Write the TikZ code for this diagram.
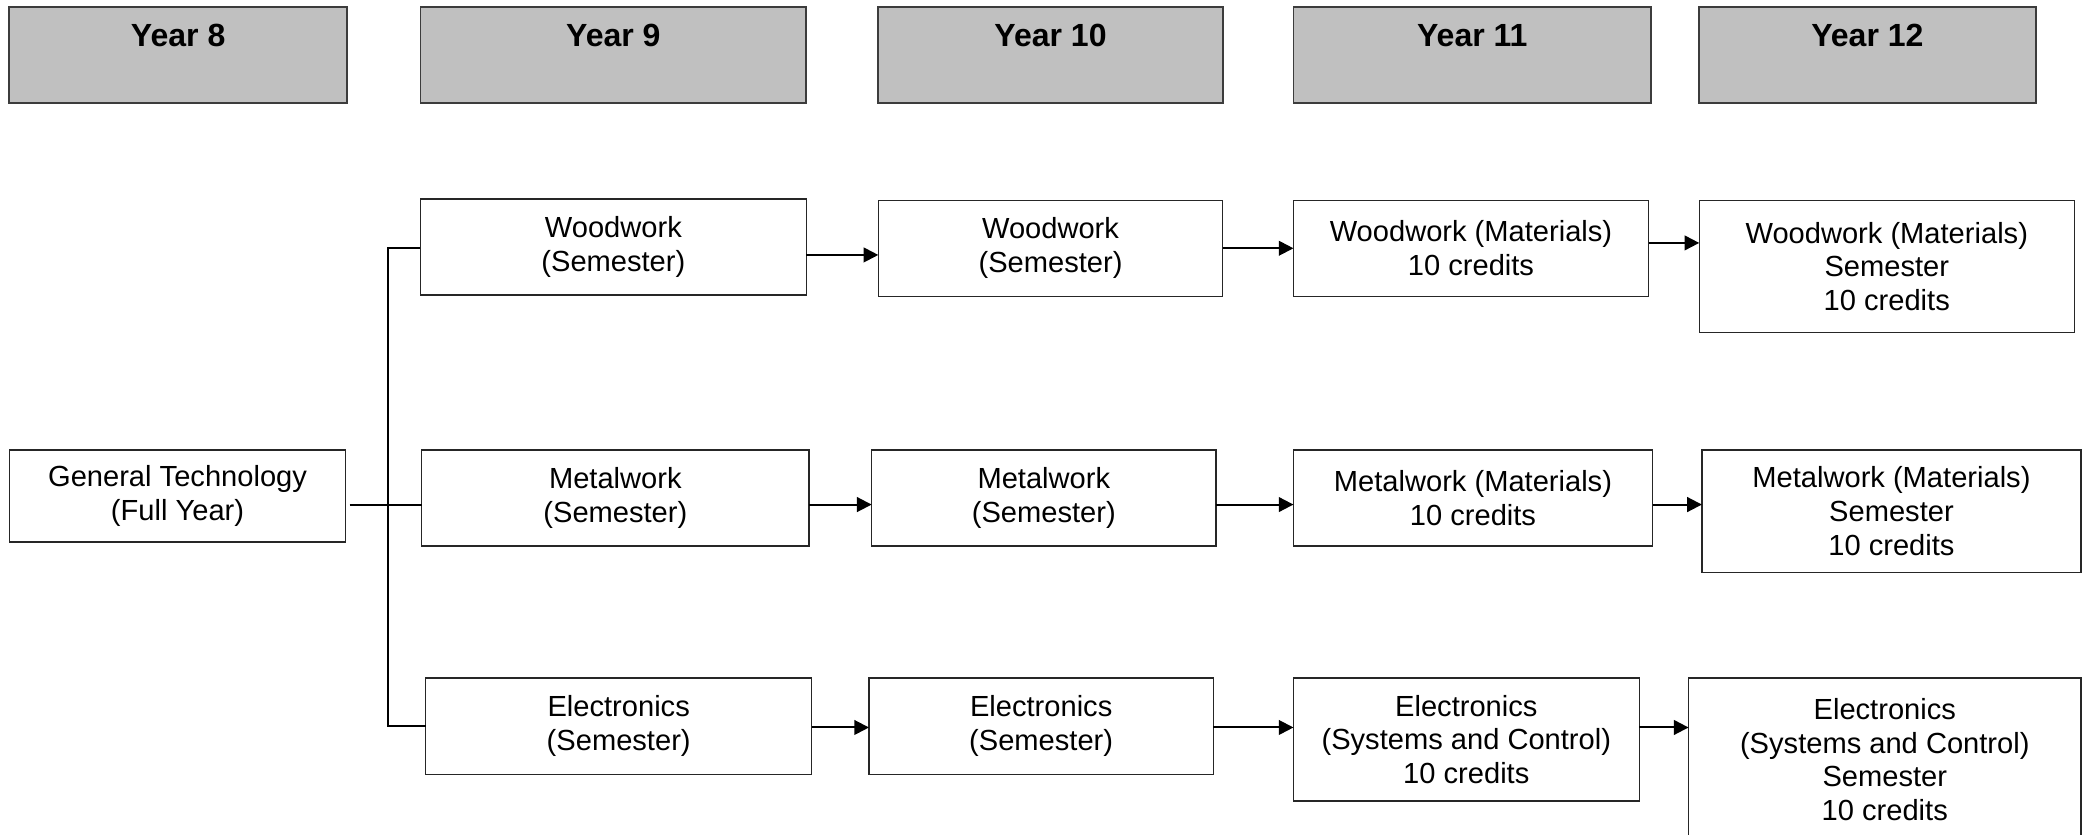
\documentclass[tikz,border=0pt]{standalone}
\usepackage{fontspec}
\setmainfont{Liberation Sans}
\usetikzlibrary{arrows.meta}
\definecolor{hdrgray}{HTML}{C0C0C0}
\definecolor{edge}{HTML}{262626}
\tikzset{
  box/.style={draw=edge, line width=0.5pt, fill=white, inner sep=0pt, outer sep=0pt,
    align=center, font=\fontsize{10.9}{12.6}\selectfont},
  hdrbox/.style={draw=edge!90, line width=0.7pt, fill=hdrgray, inner sep=0pt, outer sep=0pt},
  hdrtxt/.style={inner sep=0pt, font=\bfseries\fontsize{12}{14}\selectfont},
  conn/.style={line width=0.75pt, black},
  arr/.style={line width=0.75pt, black, -{Triangle[length=5.5pt,width=5.5pt]}}
}
\newcommand\mybox[7][box]{\node[#1, minimum width={(#5-#3)*0.5pt}, minimum height={(#6-#4)*0.5pt}] (#2) at ({(#3+#5)/2},{(#4+#6)/2}) {#7};}
\begin{document}
\begin{tikzpicture}[x=0.5pt,y=-0.5pt]
\useasboundingbox (0,0) rectangle (1568,625);
% headers
\mybox[hdrbox]{H8}{7}{5}{260}{77}{}
\mybox[hdrbox]{H9}{315}{5}{604}{77}{}
\mybox[hdrbox]{H10}{658}{5}{916}{77}{}
\mybox[hdrbox]{H11}{969}{5}{1237}{77}{}
\mybox[hdrbox]{H12}{1273}{5}{1525}{77}{}
\node[hdrtxt, anchor=base] (T8) at (H8.center |- 0,35) {Year 8};
\node[hdrtxt, anchor=base] (T9) at (H9.center |- 0,35) {Year 9};
\node[hdrtxt, anchor=base] (T10) at (H10.center |- 0,35) {Year 10};
\node[hdrtxt, anchor=base] (T11) at (H11.center |- 0,35) {Year 11};
\node[hdrtxt, anchor=base] (T12) at (H12.center |- 0,35) {Year 12};
% row 1
\mybox{W9}{315}{149}{604}{221}{Woodwork\\(Semester)}
\mybox{W10}{658}{150}{916}{222}{Woodwork\\(Semester)}
\mybox{W11}{969}{150}{1235}{222}{Woodwork (Materials)\\10 credits}
\mybox{W12}{1273}{150}{1554}{249}{Woodwork (Materials)\\Semester\\10 credits}
% row 2
\mybox{GT}{7}{337}{259}{406}{General Technology\\(Full Year)}
\mybox{M9}{316}{337}{606}{409}{Metalwork\\(Semester)}
\mybox{M10}{653}{337}{911}{409}{Metalwork\\(Semester)}
\mybox{M11}{969}{337}{1238}{409}{Metalwork (Materials)\\10 credits}
\mybox{M12}{1275}{337}{1559}{429}{Metalwork (Materials)\\Semester\\10 credits}
% row 3
\mybox{E9}{319}{508}{608}{580}{Electronics\\(Semester)}
\mybox{E10}{651}{508}{909}{580}{Electronics\\(Semester)}
\mybox{E11}{969}{508}{1228}{600}{Electronics\\(Systems and Control)\\10 credits}
\mybox{E12}{1265}{508}{1559}{630}{Electronics\\(Systems and Control)\\Semester\\10 credits}
% branching connector
\coordinate (jn) at (291,378);
\draw[conn] ([xshift=1.5pt,yshift=-3.25pt]GT.east) -- ([yshift=-2.5pt]M9.west);
\draw[conn] ([yshift=-0.5pt]W9.west) -| (jn) |- (E9.west);
% arrows row 1
\draw[arr] ([yshift=-3pt]W9.east) -- ([yshift=-2.5pt]W10.west);
\draw[arr] (W10.east) -- (W11.west);
\draw[arr] ([yshift=2pt]W11.east) -- ([yshift=8.75pt]W12.west);
% arrows row 2
\draw[arr] ([yshift=-2.5pt]M9.east) -- ([yshift=-2.5pt]M10.west);
\draw[arr] ([yshift=-2.5pt]M10.east) -- ([yshift=-2.5pt]M11.west);
\draw[arr] ([yshift=-2.5pt]M11.east) -- ([yshift=2.5pt]M12.west);
% arrows row 3
\draw[arr] ([yshift=-0.5pt]E9.east) -- ([yshift=-0.5pt]E10.west);
\draw[arr] ([yshift=-0.5pt]E10.east) -- ([yshift=4.5pt]E11.west);
\draw[arr] ([yshift=4.5pt]E11.east) -- ([yshift=12pt]E12.west);
\end{tikzpicture}
\end{document}
